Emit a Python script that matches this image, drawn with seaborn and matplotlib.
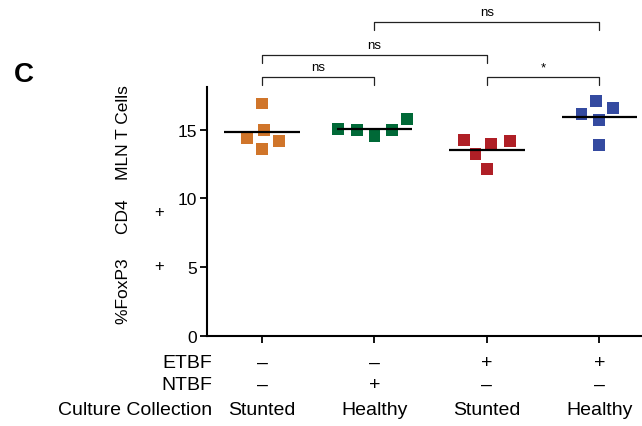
import matplotlib.pyplot as plt
import numpy as np
import pandas as pd
import seaborn as sns

# values
groups = ["A", "B", "C", "D"]
orange_vals = [16.9, 15.0, 14.4, 14.2, 13.6]
green_vals = [15.0, 14.55, 15.8, 15.0, 15.05]
red_vals = [14.25, 13.95, 13.2, 14.15, 12.15]
blue_vals = [16.15, 17.1, 16.6, 15.7, 13.9]
colors = ["#D0752A", "#006937", "#AF1F26", "#344AA0"]

etbf = ["\u2013", "\u2013", "+", "+"]
ntbf = ["\u2013", "+", "\u2013", "\u2013"]
culture = ["Stunted", "Healthy", "Stunted", "Healthy"]

# (left group, right group, label)
comparisons = [(0, 1, "ns"), (2, 3, "*"), (0, 2, "ns"), (1, 3, "ns")]


def make_df():
    rows = []
    for g, vals in zip(groups, [orange_vals, green_vals, red_vals, blue_vals]):
        for v in vals:
            rows.append({"group": g, "value": v})
    return pd.DataFrame(rows)


def main():
    sns.set_style("ticks", {"axes.edgecolor": "black", "text.color": "black",
                            "axes.labelcolor": "black", "xtick.color": "black",
                            "ytick.color": "black"})
    plt.rcParams["font.family"] = ["Liberation Sans", "DejaVu Sans"]

    df = make_df()
    fig = plt.figure(figsize=(6.42, 4.27), dpi=100)
    ax = fig.add_axes([207 / 642, 90 / 427, 1 - 207 / 642, 249 / 427])

    # lay out the swarm with wide spacing, then shrink the squares
    sns.swarmplot(data=df, x="group", y="value", hue="group", order=groups,
                  palette=colors, marker="s", size=13, linewidth=0,
                  legend=False, ax=ax)
    ax.set_xlim(-0.49, 3.38)
    ax.set_ylim(0, 18.1)
    fig.canvas.draw()
    for c in ax.collections:
        if "draw" in c.__dict__:
            del c.draw
        c.set_sizes([8.6 ** 2])

    means = df.groupby("group")["value"].mean().reindex(groups)
    ax.hlines(means.values, np.arange(4) - 0.335, np.arange(4) + 0.335,
              color="black", lw=1.6, zorder=5)

    ax.set_yticks([0, 5, 10, 15])
    ax.tick_params(axis="y", labelsize=12.5, length=5, width=1.3, pad=2)
    ax.tick_params(axis="x", length=5, width=1.3, labelbottom=False)
    for s in ["left", "bottom"]:
        ax.spines[s].set_linewidth(1.5)
    sns.despine(ax=ax)
    ax.set_xlabel("")

    ax.set_ylabel("%FoxP3     CD4    MLN T Cells", fontsize=12.5, va="center")
    ax.yaxis.set_label_coords(-0.191, 0.53)
    ytrans = ax.get_yaxis_transform()
    ax.text(-0.11, 5.1, "+", transform=ytrans, ha="center", va="center",
            fontsize=12)
    ax.text(-0.11, 9.05, "+", transform=ytrans, ha="center", va="center",
            fontsize=12)

    # row table under the axis
    xtrans = ax.get_xaxis_transform()
    rows = [("ETBF", etbf, -0.105), ("NTBF", ntbf, -0.193),
            ("Culture Collection", culture, -0.295)]
    for name, vals, yy in rows:
        ax.text(-0.44, yy, name, transform=xtrans, ha="right", va="center",
                fontsize=14)
        for i, v in enumerate(vals):
            ax.text(i, yy, v, transform=xtrans, ha="center", va="center",
                    fontsize=14)

    # significance brackets above the axes
    levels = {(0, 1): 18.85, (2, 3): 18.85, (0, 2): 20.45, (1, 3): 22.85}
    for a, b, label in comparisons:
        h = levels[(a, b)]
        ax.plot([a, a, b, b], [h - 0.6, h, h, h - 0.6], color="#222222",
                lw=0.9, clip_on=False)
        ax.text((a + b) / 2, h + 0.25, label, ha="center", va="bottom",
                fontsize=9.5)

    fig.text(23.5 / 642, 1 - 74.5 / 427, "C", fontsize=20, fontweight="bold",
             ha="center", va="center")

    fig.savefig("out.png", dpi=100)


if __name__ == "__main__":
    main()
